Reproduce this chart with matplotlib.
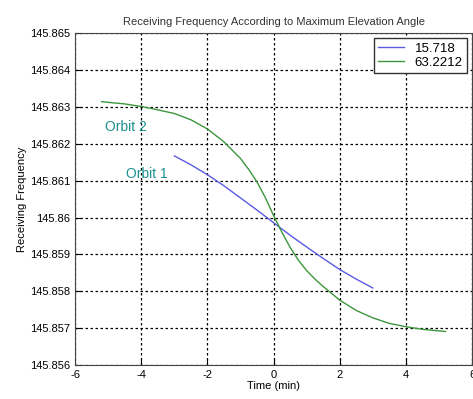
import numpy as np
from matplotlib import pyplot as plt
from matplotlib.ticker import FuncFormatter

plt.rcParams['font.family'] = ['Liberation Sans', 'DejaVu Sans']
plt.rcParams['axes.unicode_minus'] = False

# orbit 1 (max elevation 15.718 deg)
t1 = [-3.0, -2.5, -2.0, -1.5, -1.0, -0.5, 0.0, 0.5, 1.0, 1.5, 2.0, 2.5, 3.0]
f1 = [145.86167, 145.86143, 145.86116, 145.86086, 145.86053, 145.86020, 145.85986,
      145.85952, 145.85920, 145.85889, 145.85859, 145.85833, 145.85809]

# orbit 2 (max elevation 63.2212 deg)
t2 = [-5.2, -4.5, -4.0, -3.5, -3.0, -2.5, -2.0, -1.5, -1.0, -0.75, -0.5, -0.25, 0.0,
      0.25, 0.5, 0.75, 1.0, 1.25, 1.5, 2.0, 2.5, 3.0, 3.5, 4.0, 4.5, 5.2]
f2 = [145.86314, 145.86308, 145.86301, 145.86292, 145.86282, 145.86265, 145.86240,
      145.86205, 145.86160, 145.86130, 145.86096, 145.86054, 145.86005,
      145.85960, 145.85919, 145.85884, 145.85856, 145.85833, 145.85813, 145.85776,
      145.85748, 145.85728, 145.85713, 145.85704, 145.85697, 145.85691]

legend_labels = ['15.718', '63.2212']

fig = plt.figure(figsize=[4.73, 3.99], dpi=100)
ax = fig.add_axes([0.159, 0.085, 0.839, 0.832])
ax.plot(t1, f1, color='#5a5ae6', lw=1, label=legend_labels[0])
ax.plot(t2, f2, color='#3c963c', lw=1, label=legend_labels[1])

ax.text(-5.1, 145.86245, 'Orbit 2', color='#1a9090', fontsize=10, va='center')
ax.text(-4.45, 145.86117, 'Orbit 1', color='#1a9090', fontsize=10, va='center')

ax.set_xlim(-6, 6)
ax.set_ylim(145.856, 145.865)
ax.set_xticks(np.arange(-6, 7, 2))
ax.set_yticks(np.arange(145.856, 145.8655, 0.001))
ax.yaxis.set_major_formatter(FuncFormatter(lambda v, p: ('%.3f' % v).rstrip('0')))
ax.tick_params(direction='in', labelsize=8, length=4)
ax.grid(True, linestyle=(0, (2, 2)), color='black', lw=0.9)
for s in ax.spines.values():
    s.set_color('#444444')

ax.set_title('Receiving Frequency According to Maximum Elevation Angle', fontsize=8, color='#333333')
ax.set_xlabel('Time (min)', fontsize=8, labelpad=1)
ax.set_ylabel('Receiving Frequency', fontsize=8, labelpad=2)
leg = ax.legend(loc='upper right', fontsize=9.5, fancybox=False, edgecolor='#333333',
                framealpha=1, handlelength=2.0, borderpad=0.3, labelspacing=0.15,
                borderaxespad=0.4)

fig.savefig('out.png')
